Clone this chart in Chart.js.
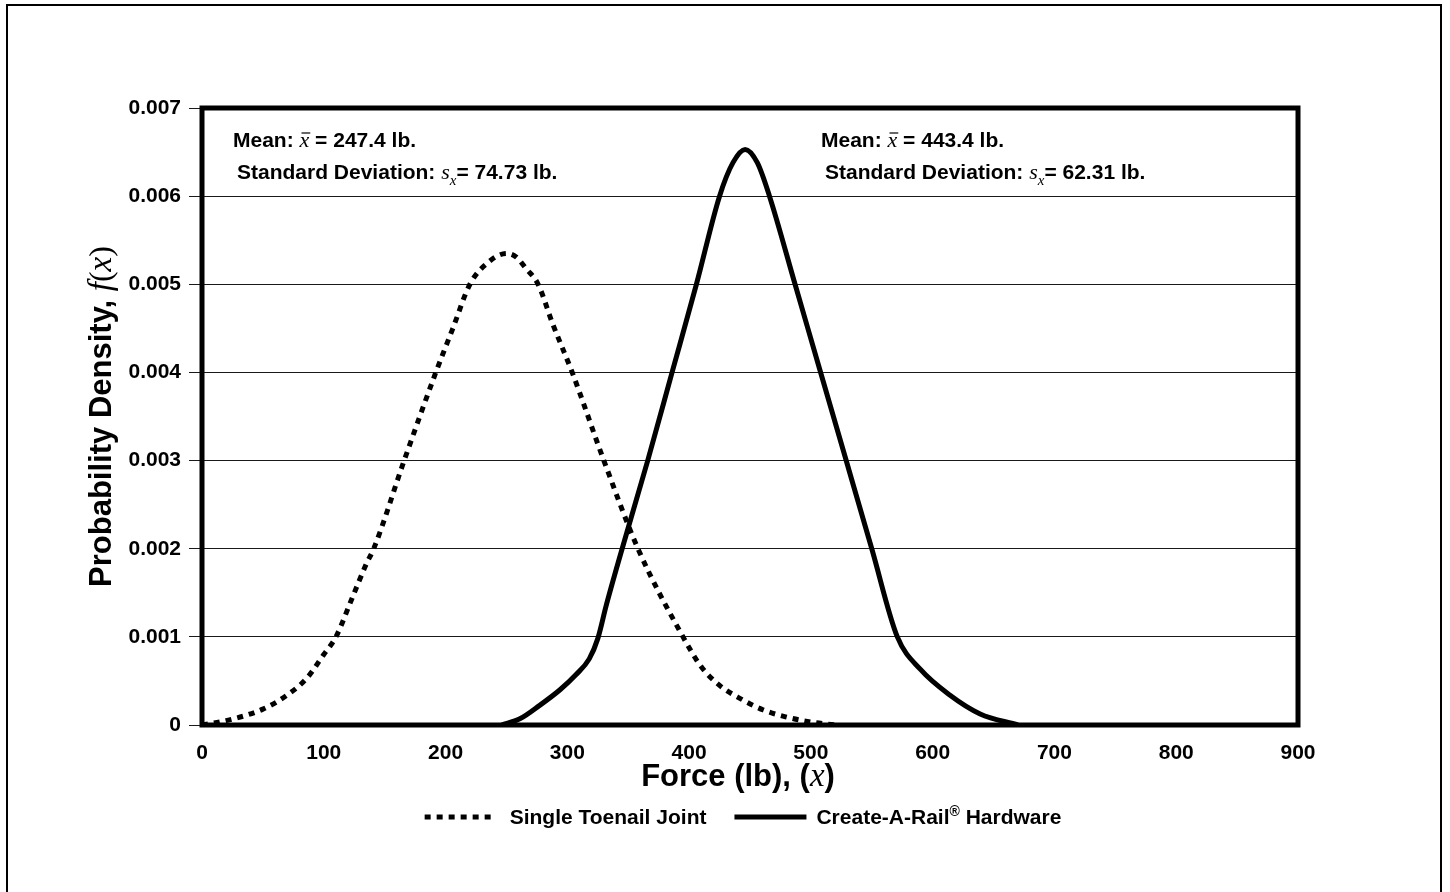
<!DOCTYPE html>
<html>
<head>
<meta charset="utf-8">
<script src="https://cdn.jsdelivr.net/npm/chart.js@4.4.0/dist/chart.umd.min.js"></script>
<style>
    html, body { margin: 0; padding: 0; background: #fff; }
    #wrap { width: 1450px; height: 892px; }
</style>
</head>
<body>
<div id="wrap"><canvas id="chart" width="1450" height="892"></canvas></div>
<script>
// --- DATOS ---
const toenailX = [0, 20, 50, 70, 86, 100, 110, 123, 135, 141, 166, 192, 206, 220, 236, 250, 258, 266, 276, 288, 304, 330, 358, 395, 410, 425, 442, 461, 480, 502, 520];
const toenailY = [0, 0.00005, 0.00018, 0.00034, 0.00053, 0.0008, 0.001, 0.00143, 0.00183, 0.002, 0.003, 0.004, 0.0045, 0.005, 0.00526, 0.00535, 0.00531, 0.00518, 0.005, 0.00455, 0.004, 0.003, 0.002, 0.001, 0.00066, 0.00045, 0.0003, 0.00017, 0.00009, 0.00003, 0];

const railX = [246, 261, 277, 294, 307, 318, 325, 332, 345, 366, 386, 406, 425, 436, 446, 456, 466, 487, 508, 529, 550, 571, 590, 614, 639, 670];
const railY = [0, 0.00007, 0.00022, 0.0004, 0.00057, 0.00075, 0.00098, 0.00136, 0.002, 0.003, 0.004, 0.005, 0.006, 0.00638, 0.00653, 0.00638, 0.006, 0.005, 0.004, 0.003, 0.002, 0.001, 0.00063, 0.00034, 0.000125, 0];

const seriesNames = ['Single Toenail Joint', 'Create-A-Rail® Hardware'];
const xTickValues = [0, 100, 200, 300, 400, 500, 600, 700, 800, 900];
const yTickValues = [0, 0.001, 0.002, 0.003, 0.004, 0.005, 0.006, 0.007];
const yTickLabels = ['0', '0.001', '0.002', '0.003', '0.004', '0.005', '0.006', '0.007'];

const SANS = '"Liberation Sans", Arial, Helvetica, sans-serif';
const SERIF = '"Liberation Serif", "Times New Roman", serif';

const toPoints = (xs, ys) => xs.map((x, i) => ({ x: x, y: ys[i] }));

// dibuja un texto con varias fuentes seguidas; devuelve el x final
function drawRun(ctx, parts, x, y) {
    let cx = x;
    parts.forEach(p => {
        ctx.font = p.font;
        const w = ctx.measureText(p.t).width;
        ctx.fillText(p.t, cx, y + (p.dy || 0));
        if (p.bar) {
            ctx.save();
            ctx.lineWidth = 1.2;
            ctx.beginPath();
            ctx.moveTo(cx + 2, y - 14);
            ctx.lineTo(cx + w + 1, y - 14);
            ctx.stroke();
            ctx.restore();
        }
        cx += w;
    });
    return cx;
}
function runWidth(ctx, parts) {
    let w = 0;
    parts.forEach(p => { ctx.font = p.font; w += ctx.measureText(p.t).width; });
    return w;
}

const B21 = 'bold 21px ' + SANS;
const I21 = 'italic 22px ' + SERIF;
const I15 = 'italic 15px ' + SERIF;
const B31 = 'bold 31px ' + SANS;
const I31 = 'italic 33px ' + SERIF;
const R31 = '32px ' + SERIF;

function statLines(mean, sd) {
    return [
        [{ t: 'Mean: ', font: B21 }, { t: 'x', font: I21, bar: true }, { t: ' = ' + mean + ' lb.', font: B21 }],
        [{ t: 'Standard Deviation: ', font: B21 }, { t: 's', font: I21 }, { t: 'x', font: I15, dy: 6 }, { t: '= ' + sd + ' lb.', font: B21 }]
    ];
}

const paperPlugin = {
    id: 'paper',
    afterDraw(chart) {
        const ctx = chart.ctx;
        const a = chart.chartArea;
        ctx.save();
        ctx.fillStyle = '#000';
        ctx.strokeStyle = '#000';

        // borde exterior (el borde inferior queda fuera de la imagen)
        ctx.lineWidth = 2;
        ctx.strokeRect(7, 5, 1434, 1000);

        // marco del área de trazado
        ctx.lineWidth = 5;
        ctx.strokeRect(a.left, a.top, a.right - a.left, a.bottom - a.top);

        // anotaciones
        ctx.textAlign = 'left';
        ctx.textBaseline = 'alphabetic';
        const left = statLines('247.4', '74.73');
        drawRun(ctx, left[0], a.left + 31, 147);
        drawRun(ctx, left[1], a.left + 35, 179);
        const right = statLines('443.4', '62.31');
        drawRun(ctx, right[0], a.left + 619, 147);
        drawRun(ctx, right[1], a.left + 623, 179);

        // título eje X
        const xt = [{ t: 'Force (lb), (', font: B31 }, { t: 'x', font: I31 }, { t: ')', font: B31 }];
        const xw = runWidth(ctx, xt);
        drawRun(ctx, xt, 738 - xw / 2, 786);

        // título eje Y
        const yt = [{ t: 'Probability Density, ', font: B31 }, { t: 'f', font: I31 }, { t: '(', font: R31 }, { t: 'x', font: I31 }, { t: ')', font: R31 }];
        const yw = runWidth(ctx, yt);
        ctx.save();
        ctx.translate(111, (a.top + a.bottom) / 2);
        ctx.rotate(-Math.PI / 2);
        drawRun(ctx, yt, -yw / 2, 0);
        ctx.restore();

        // leyenda
        const ds = chart.data.datasets;
        const sample = 72;
        const items = [
            [{ t: seriesNames[0], font: B21 }],
            [{ t: 'Create-A-Rail', font: B21 }, { t: '®', font: 'bold 14px ' + SANS, dy: -8 }, { t: ' Hardware', font: B21 }]
        ];
        const w0 = runWidth(ctx, items[0]);
        const w1 = runWidth(ctx, items[1]);
        const total = sample + 13 + w0 + 28 + sample + 10 + w1;
        let lx = 743 - total / 2;
        const ly = 817;
        [0, 1].forEach(i => {
            ctx.save();
            ctx.lineWidth = ds[i].borderWidth;
            ctx.setLineDash(ds[i].borderDash || []);
            ctx.beginPath();
            ctx.moveTo(lx, ly);
            ctx.lineTo(lx + sample, ly);
            ctx.stroke();
            ctx.restore();
            lx += sample + (i === 0 ? 13 : 10);
            drawRun(ctx, items[i], lx, ly + 7);
            lx += (i === 0 ? w0 : w1) + 28;
        });

        ctx.restore();
    }
};

new Chart(document.getElementById('chart'), {
    type: 'line',
    data: {
        datasets: [{
            label: seriesNames[0],
            data: toPoints(toenailX, toenailY),
            borderColor: '#000',
            borderWidth: 5,
            borderDash: [6, 6],
            borderCapStyle: 'butt',
            pointRadius: 0,
            fill: false,
            cubicInterpolationMode: 'monotone'
        }, {
            label: seriesNames[1],
            data: toPoints(railX, railY),
            borderColor: '#000',
            borderWidth: 5,
            pointRadius: 0,
            fill: false,
            cubicInterpolationMode: 'monotone'
        }]
    },
    options: {
        responsive: false,
        animation: false,
        devicePixelRatio: 1,
        layout: { padding: { left: 122, right: 152, top: 108, bottom: 127 } },
        plugins: {
            legend: { display: false },
            tooltip: { enabled: false }
        },
        scales: {
            x: {
                type: 'linear',
                min: 0,
                max: 900,
                afterBuildTicks: s => { s.ticks = xTickValues.map(v => ({ value: v })); },
                afterFit: s => { s.height = 40; },
                grid: { display: false, drawTicks: false },
                border: { display: false },
                ticks: {
                    color: '#000',
                    font: { family: SANS, size: 21, weight: 'bold' },
                    padding: 16,
                    maxRotation: 0,
                    autoSkip: false,
                    callback: v => String(v)
                }
            },
            y: {
                min: 0,
                max: 0.007,
                afterBuildTicks: s => { s.ticks = yTickValues.map(v => ({ value: v })); },
                afterFit: s => { s.width = 80; },
                grid: { color: '#1a1a1a', lineWidth: 1, tickLength: 13, drawTicks: true },
                border: { display: false },
                ticks: {
                    color: '#000',
                    font: { family: SANS, size: 21, weight: 'bold' },
                    padding: 8,
                    autoSkip: false,
                    callback: (v, i) => yTickLabels[i]
                }
            }
        }
    },
    plugins: [paperPlugin]
});
</script>
</body>
</html>
